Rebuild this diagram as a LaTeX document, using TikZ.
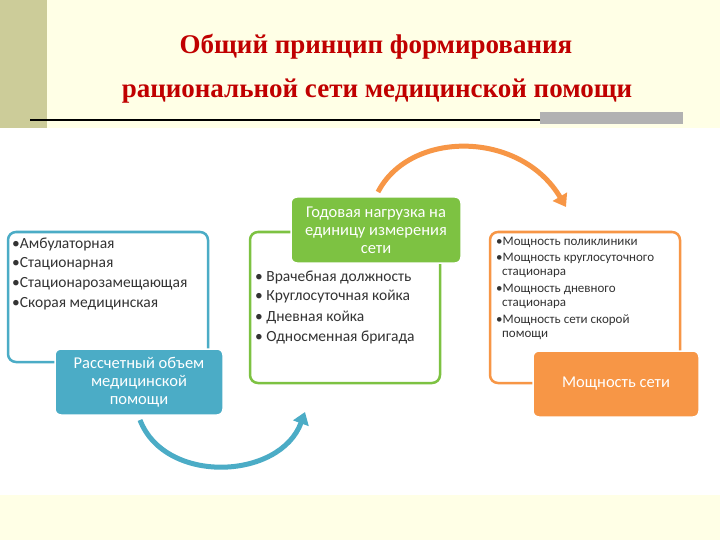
\documentclass[tikz,border=0pt]{standalone}
\usepackage{fontspec}
\setmainfont{Liberation Serif}
\newfontfamily\calfnt{Carlito}
\usetikzlibrary{arrows.meta}
\definecolor{cream}{HTML}{FFFFE6}
\definecolor{olive}{HTML}{CCCC99}
\definecolor{bl}{HTML}{4BACC6}
\definecolor{gr}{HTML}{7DC242}
\definecolor{orr}{HTML}{F79646}
\definecolor{tred}{HTML}{C00000}
\begin{document}
\begin{tikzpicture}[x=1pt,y=-1pt,
 outl/.style={draw=#1,line width=2.5pt,rounded corners=8pt,fill=white},
 filb/.style={fill=#1,draw=white,line width=1.5pt,rounded corners=6pt,text=white,font=\calfnt\fontsize{16.5}{18}\selectfont,align=center},
 btxt/.style={anchor=west,font=\calfnt\fontsize{15.5}{17}\selectfont,text=black!80,inner sep=0},
 stxt/.style={anchor=west,font=\calfnt\fontsize{13}{14}\selectfont,text=black!80,inner sep=0},
 arc/.style={line width=5pt,-{Triangle[length=12pt,width=16pt]}}]
\useasboundingbox (0,0) rectangle (720,540);
\fill[white] (0,0) rectangle (720,540);
\fill[cream] (0,0) rectangle (720,128);
\fill[cream] (0,495) rectangle (720,540);
\fill[olive] (0,0) rectangle (47,128);
\node[text=tred,font=\bfseries\fontsize{27}{30}\selectfont] (t1) at (376,47) {Общий принцип формирования};
\node[text=tred,font=\bfseries\fontsize{27}{30}\selectfont] (t2) at (377,91) {рациональной сети медицинской помощи};
\fill[gray!60] (540,112) rectangle (683,124);
\draw[line width=1.5pt] (30,120) -- (540,120);
% boxes
\node[outl=bl,minimum width=200pt,minimum height=130pt] (lb) at (108,297) {};
\node[outl=gr,minimum width=190pt,minimum height=151pt] (mb) at (345,307.5) {};
\node[outl=orr,minimum width=190pt,minimum height=151pt] (rb) at (585,307.5) {};
\node[btxt] (l1) at (12,244) {•Амбулаторная};
\node[btxt] (l2) at (12,264) {•Стационарная};
\node[btxt] (l3) at (12,284) {•Стационарозамещающая};
\node[btxt] (l4) at (12,304) {•Скорая медицинская};
\node[btxt] (m1) at (255,277) {• Врачебная должность};
\node[btxt] (m2) at (255,297) {• Круглосуточная койка};
\node[btxt] (m3) at (255,317) {• Дневная койка};
\node[btxt] (m4) at (255,337) {• Односменная бригада};
\node[stxt] (r1) at (496,242) {•Мощность поликлиники};
\node[stxt] (r2) at (496,258) {•Мощность круглосуточного};
\node[stxt] (r3) at (502,273) {стационара};
\node[stxt] (r4) at (496,289) {•Мощность дневного};
\node[stxt] (r5) at (502,304) {стационара};
\node[stxt] (r6) at (496,320) {•Мощность сети скорой};
\node[stxt] (r7) at (502,335) {помощи};
\node[filb=bl,minimum width=168pt,minimum height=66pt] (lf) at (139,382) {Рассчетный объем\\медицинской\\помощи};
\node[filb=gr,minimum width=170pt,minimum height=66pt] (mf) at (376,230) {Годовая нагрузка на\\единицу измерения\\сети};
\node[filb=orr,minimum width=166pt,minimum height=66pt] (rf) at (616,384) {Мощность сети};
\coordinate (oa) at (378,192); \coordinate (ob) at (566,207);
\coordinate (ba) at (140,420); \coordinate (bb) at (305,412);
\draw[arc,color=orr] (oa) .. controls (410,130) and (520,130) .. (ob);
\draw[arc,color=bl] (ba) .. controls (165,485) and (280,480) .. (bb);
\end{tikzpicture}
\end{document}
